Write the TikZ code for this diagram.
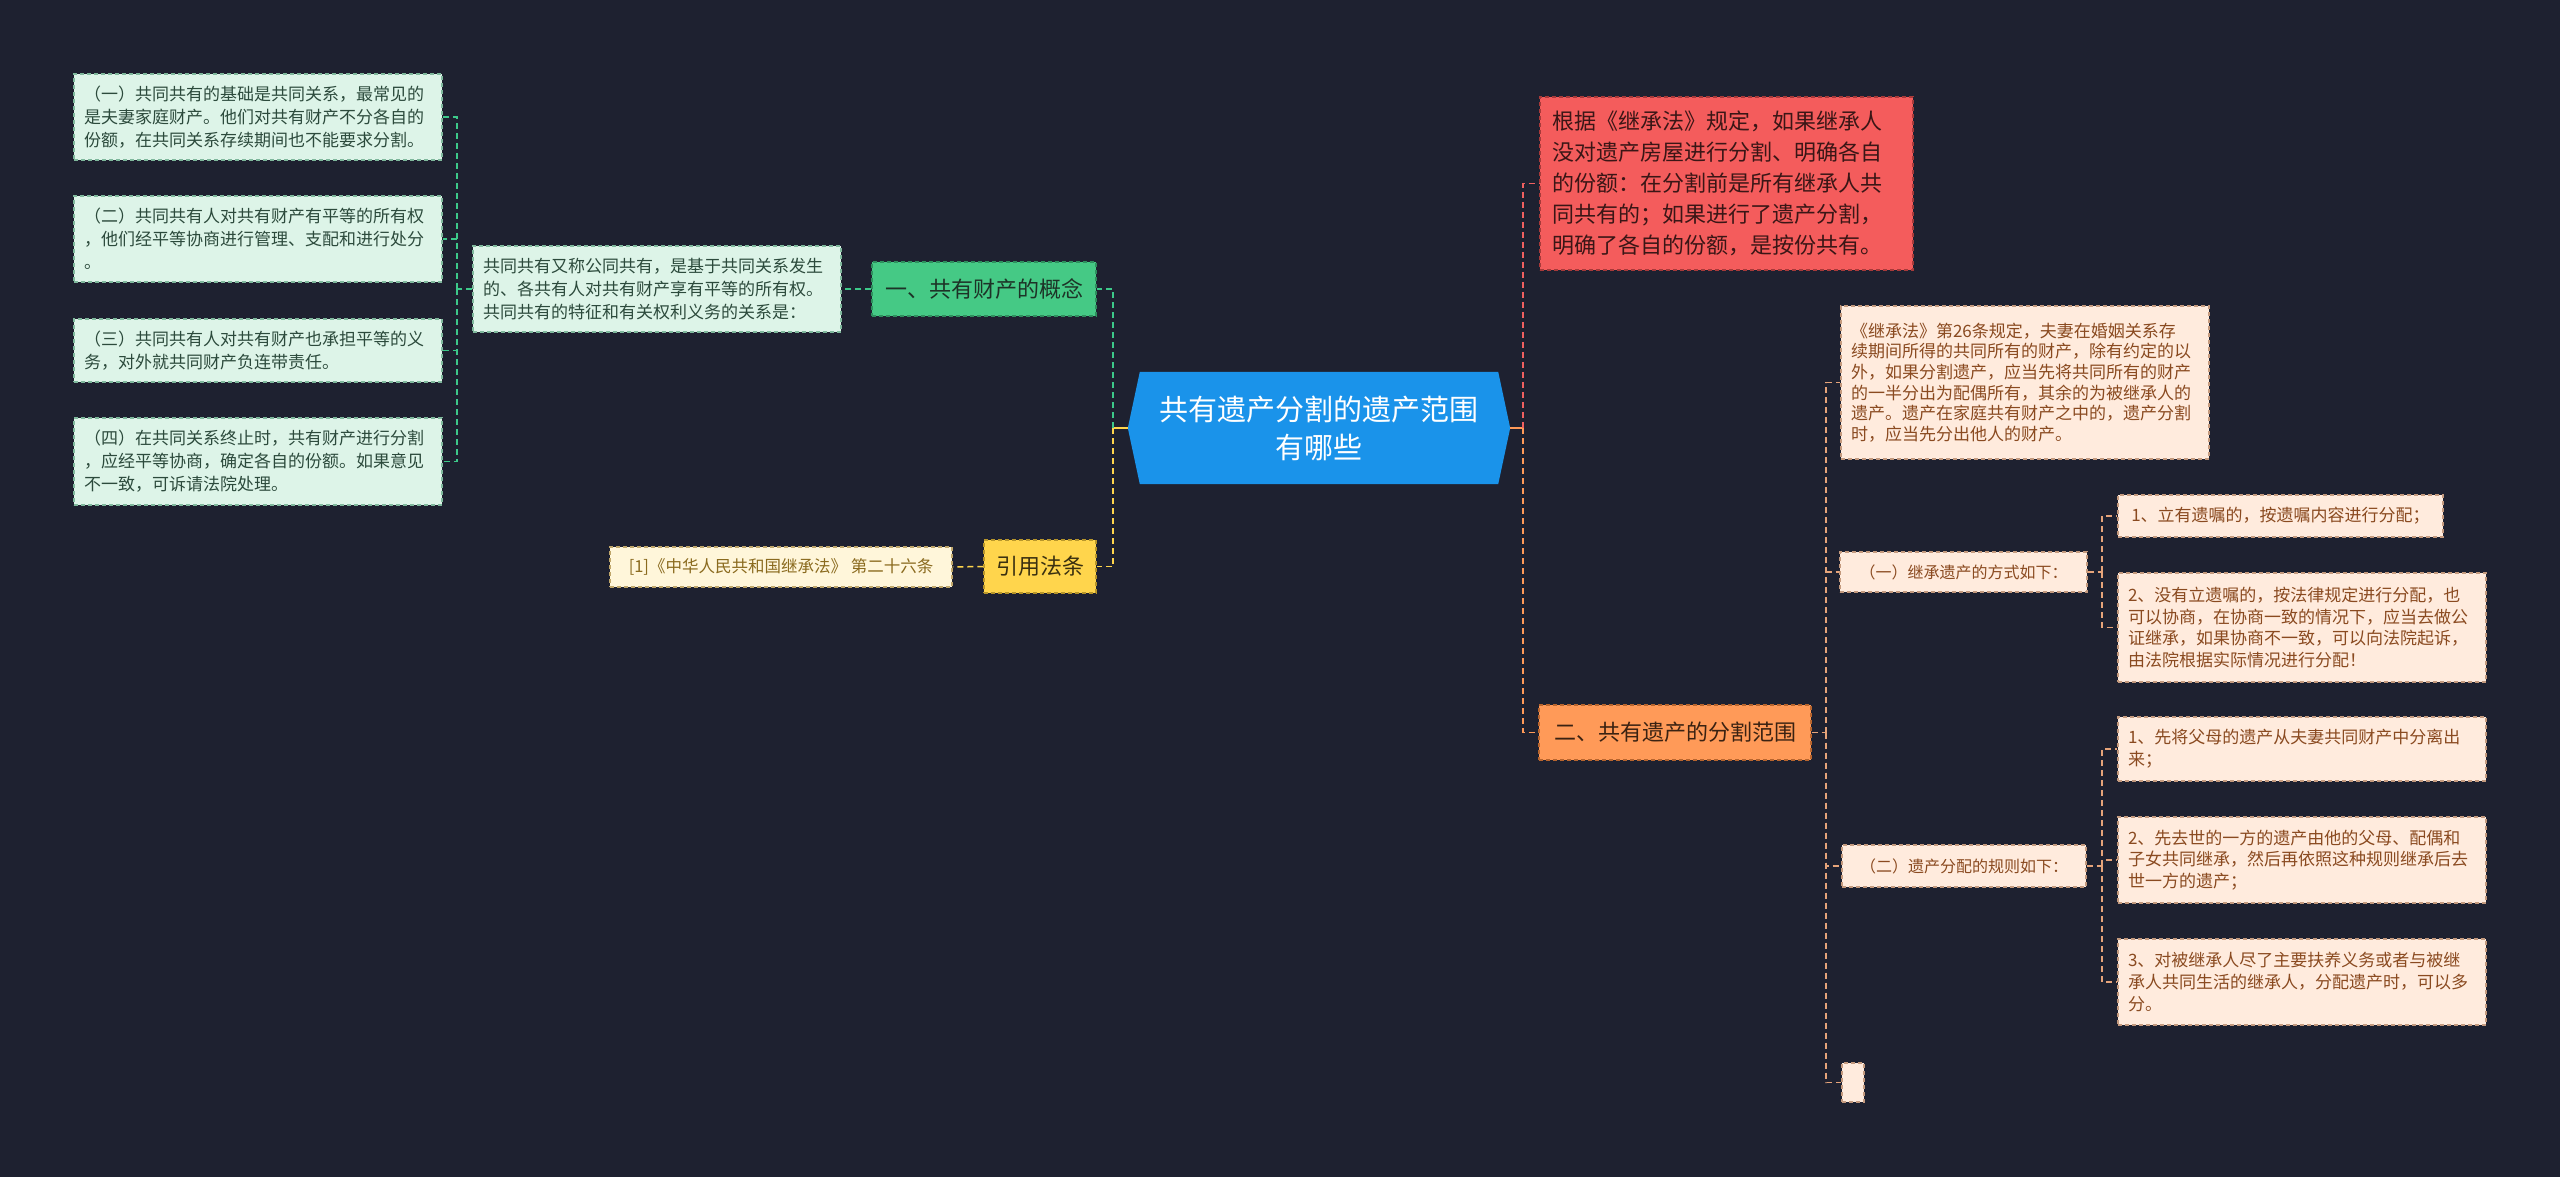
\documentclass[tikz,border=0pt]{standalone}
\usepackage{fontspec}
\setmainfont{Noto Sans CJK SC}
\usetikzlibrary{backgrounds}
\pgfdeclarelayer{canvas}
\pgfsetlayers{canvas,background,main}
\definecolor{bg}{HTML}{1E2130}
\definecolor{rootblue}{HTML}{1A93EA}
\definecolor{mintfill}{HTML}{DDF4E8}
\definecolor{mintdraw}{HTML}{7FB89C}
\definecolor{minttext}{HTML}{2C4A3C}
\definecolor{gline}{HTML}{3DC98A}
\definecolor{conceptfill}{HTML}{45C985}
\definecolor{conceptdraw}{HTML}{2E8F5E}
\definecolor{concepttext}{HTML}{1D3327}
\definecolor{yelfill}{HTML}{FFD54C}
\definecolor{yeldraw}{HTML}{B8962A}
\definecolor{yeltext}{HTML}{3A3010}
\definecolor{yline}{HTML}{FFD54C}
\definecolor{citefill}{HTML}{FFF6DA}
\definecolor{citedraw}{HTML}{BFA66A}
\definecolor{citetext}{HTML}{8A6A1E}
\definecolor{redfill}{HTML}{F45C5C}
\definecolor{reddraw}{HTML}{A83A3A}
\definecolor{redtext}{HTML}{3A1616}
\definecolor{rline}{HTML}{F06060}
\definecolor{orafill}{HTML}{FF9A58}
\definecolor{oradraw}{HTML}{B8652E}
\definecolor{oratext}{HTML}{3A2212}
\definecolor{oline}{HTML}{FF9A58}
\definecolor{peachfill}{HTML}{FFEBDD}
\definecolor{peachdraw}{HTML}{C49A7E}
\definecolor{peachtext}{HTML}{8A4A20}
\definecolor{pline}{HTML}{E6A47A}
\tikzset{
  box/.style={rectangle, dash pattern=on 4pt off 3pt, line width=1.1pt, inner sep=0pt},
  mint/.style={box, fill=mintfill, draw=mintdraw, text=minttext, align=left,
    font=\fontsize{17}{23}\selectfont, minimum width=368pt, text width=348pt},
  concept/.style={box, fill=conceptfill, draw=conceptdraw, text=concepttext, font=\fontsize{22}{28}\selectfont},
  yelbox/.style={box, fill=yelfill, draw=yeldraw, text=yeltext, font=\fontsize{22}{28}\selectfont},
  citebox/.style={box, fill=citefill, draw=citedraw, text=citetext, font=\fontsize{16.5}{20}\selectfont},
  redbox/.style={box, fill=redfill, draw=reddraw, text=redtext, align=left, font=\fontsize{22}{31}\selectfont},
  orabox/.style={box, fill=orafill, draw=oradraw, text=oratext, font=\fontsize{22}{28}\selectfont},
  peach/.style={box, fill=peachfill, draw=peachdraw, text=peachtext, align=left, font=\fontsize{17}{21.7}\selectfont},
  peachs/.style={box, fill=peachfill, draw=peachdraw, text=peachtext, font=\fontsize{16}{20}\selectfont},
  rootbox/.style={rectangle, inner sep=0pt, text=white, align=center, font=\fontsize{29}{38}\selectfont},
  conn/.style={dash pattern=on 6pt off 4pt, line width=1.5pt},
  stub/.style={line width=2pt},
}
\begin{document}
\begin{tikzpicture}[x=1pt,y=-1pt]
\begin{pgfonlayer}{canvas}
\fill[bg] (0,0) rectangle (2560,1177);
\end{pgfonlayer}
\useasboundingbox (0,0) rectangle (2560,1177);

% root
\node[rootbox, minimum width=382pt, minimum height=112pt] (root) at (1319,428) {共有遗产分割的遗产范围\\有哪些};
\begin{pgfonlayer}{background}
\fill[rootblue] ([xshift=12pt]root.north west) -- (root.west) -- ([xshift=12pt]root.south west)
  -- ([xshift=-12pt]root.south east) -- (root.east) -- ([xshift=-12pt]root.north east) -- cycle;
\end{pgfonlayer}

% left side
\node[concept, minimum width=224pt, minimum height=54pt] (concept) at (984,289) {一、共有财产的概念};
\node[mint, minimum height=86pt] (desc) at (657,289) {共同共有又称公同共有，是基于共同关系发生\\的、各共有人对共有财产享有平等的所有权。\\共同共有的特征和有关权利义务的关系是：};
\node[mint, minimum height=86pt] (m1) at (258,117) {（一）共同共有的基础是共同关系，最常见的\\是夫妻家庭财产。他们对共有财产不分各自的\\份额，在共同关系存续期间也不能要求分割。};
\node[mint, minimum height=86pt] (m2) at (258,239) {（二）共同共有人对共有财产有平等的所有权\\，他们经平等协商进行管理、支配和进行处分\\。};
\node[mint, minimum height=63pt] (m3) at (258,350.5) {（三）共同共有人对共有财产也承担平等的义\\务，对外就共同财产负连带责任。};
\node[mint, minimum height=87pt] (m4) at (258,461.5) {（四）在共同关系终止时，共有财产进行分割\\，应经平等协商，确定各自的份额。如果意见\\不一致，可诉请法院处理。};
\node[yelbox, minimum width=112pt, minimum height=53pt] (cite) at (1040,566.5) {引用法条};
\node[citebox, minimum width=342pt, minimum height=40pt] (law) at (781,567) {[1]《中华人民共和国继承法》 第二十六条};

% right side
\node[redbox, minimum width=373pt, minimum height=173pt, text width=349pt] (red) at (1726.5,183.5) {根据《继承法》规定，如果继承人\\没对遗产房屋进行分割、明确各自\\的份额：在分割前是所有继承人共\\同共有的；如果进行了遗产分割，\\明确了各自的份额，是按份共有。};
\node[orabox, minimum width=272pt, minimum height=55pt] (scope) at (1675,732.5) {二、共有遗产的分割范围};
\node[peach, minimum width=368pt, minimum height=153pt, text width=348pt, font=\fontsize{17}{20.7}\selectfont] (art26) at (2025,382.5) {《继承法》第26条规定，夫妻在婚姻关系存\\续期间所得的共同所有的财产，除有约定的以\\外，如果分割遗产，应当先将共同所有的财产\\的一半分出为配偶所有，其余的为被继承人的\\遗产。遗产在家庭共有财产之中的，遗产分割\\时，应当先分出他人的财产。};
\node[peachs, minimum width=247pt, minimum height=40pt] (way) at (1963.5,572) {（一）继承遗产的方式如下：};
\node[peachs, font=\fontsize{17}{21}\selectfont, minimum width=325pt, minimum height=42pt] (w1) at (2280.5,516) {1、立有遗嘱的，按遗嘱内容进行分配；};
\node[peach, minimum width=368pt, minimum height=109pt, text width=348pt] (w2) at (2302,627.5) {2、没有立遗嘱的，按法律规定进行分配，也\\可以协商，在协商一致的情况下，应当去做公\\证继承，如果协商不一致，可以向法院起诉，\\由法院根据实际情况进行分配！};
\node[peachs, minimum width=244pt, minimum height=42pt] (rule) at (1964,866) {（二）遗产分配的规则如下：};
\node[peach, minimum width=368pt, minimum height=64pt, text width=348pt] (r1) at (2302,749) {1、先将父母的遗产从夫妻共同财产中分离出\\来；};
\node[peach, minimum width=368pt, minimum height=86pt, text width=348pt] (r2) at (2302,860) {2、先去世的一方的遗产由他的父母、配偶和\\子女共同继承，然后再依照这种规则继承后去\\世一方的遗产；};
\node[peach, minimum width=368pt, minimum height=86pt, text width=348pt] (r3) at (2302,982) {3、对被继承人尽了主要扶养义务或者与被继\\承人共同生活的继承人，分配遗产时，可以多\\分。};
\node[peachs, minimum width=22pt, minimum height=39pt] (blank) at (1853,1082.5) {};

% bus coordinates
\coordinate (lbus) at (1113,428);
\coordinate (rbus) at (1523,428);
\coordinate (mbus) at (457,289);
\coordinate (sbus) at (1826,732.5);
\coordinate (wbus) at (2102,572);
\coordinate (rlbus) at (2102,866);

% connectors from root
\draw[stub, yline] (root.west) -- (lbus);
\draw[stub, oline] (root.east) -- (rbus);
\draw[conn, gline] (lbus) |- (concept.east);
\draw[conn, yline] (lbus) |- (cite.east);
\draw[conn, rline] (rbus) |- (red.west);
\draw[conn, oline] (rbus) |- (scope.west);

% left subtree
\draw[conn, gline] (concept.west) -- (desc.east);
\draw[conn, gline] (desc.west) -- (mbus);
\draw[conn, gline] (mbus) |- (m1.east);
\draw[conn, gline] (mbus) |- (m2.east);
\draw[conn, gline] (mbus) |- (m3.east);
\draw[conn, gline] (mbus) |- (m4.east);
\draw[conn, yline] (cite.west) -- (law.east);

% right subtree
\draw[conn, pline, line width=1.3pt] (scope.east) -- (sbus);
\draw[conn, pline, line width=1.3pt] (sbus) |- (art26.west);
\draw[conn, pline, line width=1.3pt] (sbus) |- (way.west);
\draw[conn, pline, line width=1.3pt] (sbus) |- (rule.west);
\draw[conn, pline, line width=1.3pt] (sbus) |- (blank.west);
\draw[conn, pline, line width=1.3pt] (way.east) -- (wbus);
\draw[conn, pline, line width=1.3pt] (wbus) |- (w1.west);
\draw[conn, pline, line width=1.3pt] (wbus) |- (w2.west);
\draw[conn, pline, line width=1.3pt] (rule.east) -- (rlbus);
\draw[conn, pline, line width=1.3pt] (rlbus) |- (r1.west);
\draw[conn, pline, line width=1.3pt] (rlbus) |- (r2.west);
\draw[conn, pline, line width=1.3pt] (rlbus) |- (r3.west);
\end{tikzpicture}
\end{document}
